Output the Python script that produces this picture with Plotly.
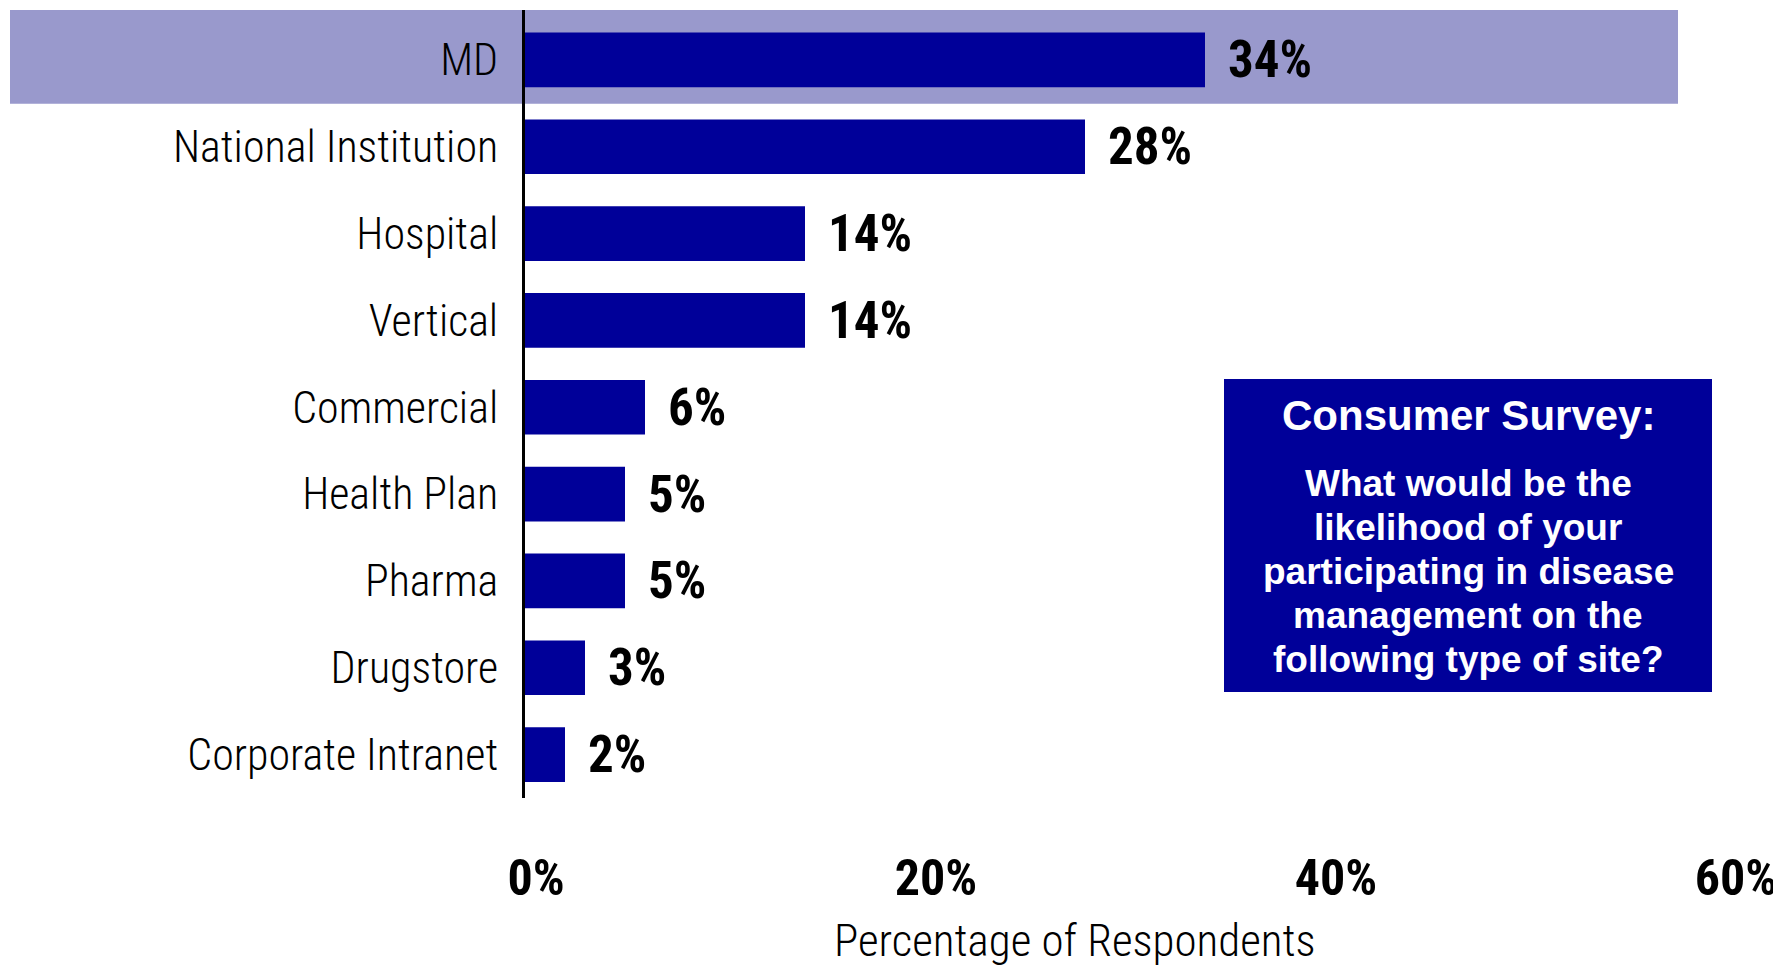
import plotly.graph_objects as go

categories = ["MD", "National Institution", "Hospital", "Vertical", "Commercial",
              "Health Plan", "Pharma", "Drugstore", "Corporate Intranet"]
values = [34, 28, 14, 14, 6, 5, 5, 3, 2]
value_labels = ["34%", "28%", "14%", "14%", "6%", "5%", "5%", "3%", "2%"]
tick_vals = [0, 20, 40, 60]
tick_text = ["0%", "20%", "40%", "60%"]
box_title = "Consumer Survey:"
box_lines = ["What would be the", "likelihood of your", "participating in disease",
             "management on the", "following type of site?"]
x_title = "Percentage of Respondents"

OFF = 8  # page body margin
W, H = 1781 - OFF, 968 - OFF
ML, MT = 525 - OFF, 10 - OFF
PR, PB = 1725 - OFF, 798 - OFF
MR, MB = W - PR, H - PB
PW, PH = PR - ML, PB - MT

def px(x):
    return (x - OFF - ML) / PW

def py(y):
    return (PB - (y - OFF)) / PH

NARROW = "Roboto Condensed, Liberation Sans Narrow, sans-serif"
BOLDF = "Liberation Sans, Arial, sans-serif"
BLUE = "#000099"

fig = go.Figure()
fig.add_trace(go.Bar(x=values, y=categories, orientation="h",
                     marker=dict(color=BLUE, line=dict(width=0)), hoverinfo="skip"))

# highlight band behind MD
fig.add_shape(type="rect", xref="paper", yref="y", x0=px(10), x1=px(1678),
              y0=-0.575, y1=0.505, fillcolor="#9999CC", line=dict(width=0), layer="below")

annotations = []
for c, v, t in zip(categories, values, value_labels):
    annotations.append(dict(x=v, y=c, xref="x", yref="y", text="<b>%s</b>" % t,
                            showarrow=False, xanchor="left", yanchor="middle", xshift=21,
                            font=dict(family=NARROW, size=51, color="black")))

# survey box
fig.add_shape(type="rect", xref="paper", yref="paper", x0=px(1224), x1=px(1712),
              y0=py(692), y1=py(379), fillcolor=BLUE, line=dict(width=0))
annotations.append(dict(x=px(1468), y=py(416), xref="paper", yref="paper",
                        text="<b>%s</b>" % box_title, showarrow=False,
                        xanchor="center", yanchor="middle",
                        font=dict(family=BOLDF, size=42, color="white")))
line_y = [483, 527, 571, 615, 659]
for ln, yy in zip(box_lines, line_y):
    annotations.append(dict(x=px(1468), y=py(yy), xref="paper", yref="paper",
                            text="<b>%s</b>" % ln, showarrow=False,
                            xanchor="center", yanchor="middle",
                            font=dict(family=BOLDF, size=37, color="white")))

annotations.append(dict(x=px(1075), y=py(940), xref="paper", yref="paper",
                        text=x_title, showarrow=False, xanchor="center", yanchor="middle",
                        font=dict(family=NARROW, size=45, color="black", weight=300)))

fig.update_layout(
    width=W, height=H,
    margin=dict(l=ML, r=MR, t=MT, b=MB, pad=0),
    paper_bgcolor="white", plot_bgcolor="rgba(0,0,0,0)",
    showlegend=False, bargap=0.37,
    annotations=annotations,
)
fig.update_xaxes(range=[0, 60], tickvals=tick_vals, ticktext=tick_text,
                 showgrid=False, zeroline=False, showline=False,
                 ticks="", ticklabelshift=11, ticklabelstandoff=46,
                 tickfont=dict(family=NARROW, size=50, color="black", weight="bold"))
fig.update_yaxes(autorange="reversed", showgrid=False, zeroline=False,
                 showline=True, linecolor="black", linewidth=3,
                 ticks="", ticklabelstandoff=15,
                 tickfont=dict(family=NARROW, size=44, color="black", weight=300))

fig.write_html("out.html")
